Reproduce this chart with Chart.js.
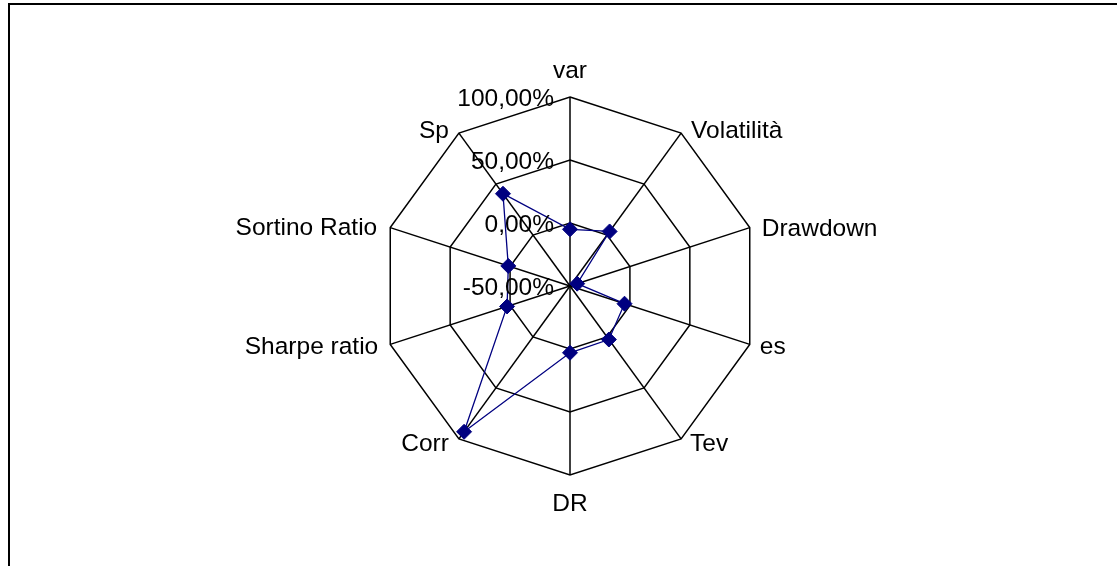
<!DOCTYPE html>
<html>
<head>
<meta charset="utf-8">
<script src="https://cdn.jsdelivr.net/npm/chart.js@4"></script>
<style>
  html, body { margin: 0; padding: 0; background: #fff; overflow: hidden; }
  #wrap { position: relative; width: 1117px; height: 566px; }
  #frame {
    position: absolute; left: 8px; top: 3px; width: 1200px; height: 700px;
    border-left: 2px solid #000; border-top: 2px solid #000; pointer-events: none;
  }
  canvas { position: absolute; left: 0; top: 0; }
</style>
</head>
<body>
<div id="wrap">
  <canvas id="radar" width="1117" height="566"></canvas>
  <div id="frame"></div>
</div>
<script>
// categories (clockwise from the top)
const categories = ['var', 'Volatilità', 'Drawdown', 'es', 'Tev', 'DR', 'Corr', 'Sharpe ratio', 'Sortino Ratio', 'Sp'];
// series values, in percent
const values = [-5, 3.5, -44, -4.5, 2.5, 3, 93, 2.5, 1.5, 40.5];
// radial axis ticks
const tickValues = [-50, 0, 50, 100];
const tickLabels = ['-50,00%', '0,00%', '50,00%', '100,00%'];

const FONT = '24.5px "Liberation Sans", Arial, sans-serif';

// where each category label sits relative to its outer vertex: [align, dx, dy(baseline)]
const labelPlacement = [
  ['center', 0, -19.5],
  ['left', 10, 5],
  ['left', 12, 8.5],
  ['left', 10, 10],
  ['left', 9, 12],
  ['center', 0, 36],
  ['right', -10, 12],
  ['right', -12, 10],
  ['right', -13, 7],
  ['right', -10, 5]
];

// draws category names and the tick labels to the left of the vertical axis
const labelsPlugin = {
  id: 'excelLabels',
  afterDraw(chart) {
    const scale = chart.scales.r;
    const ctx = chart.ctx;
    ctx.save();
    ctx.font = FONT;
    ctx.fillStyle = '#000';
    ctx.textBaseline = 'alphabetic';
    categories.forEach((name, i) => {
      const p = scale.getPointPosition(i, scale.drawingArea);
      const [align, dx, dy] = labelPlacement[i];
      ctx.textAlign = align;
      ctx.fillText(name, p.x + dx, p.y + dy);
    });
    ctx.textAlign = 'right';
    tickValues.forEach((v, i) => {
      const y = scale.yCenter - scale.getDistanceFromCenterForValue(v);
      ctx.fillText(tickLabels[i], scale.xCenter - 16, y + 8.5);
    });
    ctx.restore();
  }
};

new Chart(document.getElementById('radar'), {
  type: 'radar',
  data: {
    labels: categories,
    datasets: [{
      label: 'Serie1',
      data: values,
      borderColor: '#000080',
      borderWidth: 1.3,
      backgroundColor: '#000080',
      fill: false,
      pointStyle: 'rectRot',
      pointRadius: 7.5,
      pointBorderWidth: 1,
      pointBackgroundColor: '#000080',
      pointBorderColor: '#000080',
      tension: 0
    }]
  },
  options: {
    responsive: false,
    animation: false,
    devicePixelRatio: 1,
    layout: { padding: { top: 97, bottom: 91, left: 381, right: 358 } },
    plugins: {
      legend: { display: false },
      tooltip: { enabled: false }
    },
    scales: {
      r: {
        min: -50,
        max: 100,
        ticks: { display: false, stepSize: 50 },
        pointLabels: { display: false },
        grid: { color: '#000', lineWidth: 1.5, circular: false },
        angleLines: { color: '#000', lineWidth: 1.5 }
      }
    }
  },
  plugins: [labelsPlugin]
});
</script>
</body>
</html>
